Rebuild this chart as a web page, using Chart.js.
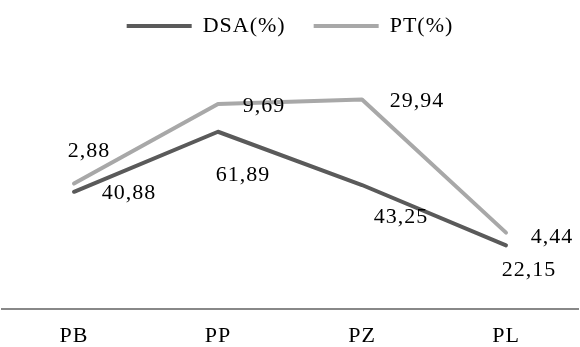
<!DOCTYPE html>
<html>
<head>
<meta charset="utf-8">
<script src="https://cdn.jsdelivr.net/npm/chart.js@4"></script>
<style>
  html, body { margin: 0; padding: 0; background: #fff; }
  #wrap { width: 580px; height: 347px; }
</style>
</head>
<body>
<div id="wrap"><canvas id="grafico"></canvas></div>
<script>
// dados do gráfico
const categorias = ['PB', 'PP', 'PZ', 'PL'];
const valoresDSA = [40.88, 61.89, 43.25, 22.15];
const valoresPT = [2.88, 9.69, 29.94, 4.44];

// deslocamento dos rótulos em relação ao ponto (px)
const deslocDSA = [[55, 1], [25, 43], [39, 32], [23, 25]];
const deslocPT = [[15, -32], [46, 2], [55, 2], [46, 5]];

const fonte = '"Liberation Serif", "Times New Roman", serif';
const tamanho = 22;
const espacamento = '1px';

// rótulos de dados com vírgula decimal
const rotulos = {
  id: 'rotulos',
  afterDatasetsDraw(chart) {
    const ctx = chart.ctx;
    ctx.save();
    ctx.font = tamanho + 'px ' + fonte;
    ctx.fillStyle = '#000';
    ctx.textAlign = 'center';
    ctx.textBaseline = 'middle';
    chart.data.datasets.forEach((ds, i) => {
      const meta = chart.getDatasetMeta(i);
      const desloc = i === 0 ? deslocDSA : deslocPT;
      meta.data.forEach((pt, j) => {
        const txt = ds.data[j].toFixed(2).replace('.', ',');
        ctx.fillText(txt, pt.x + desloc[j][0], pt.y + desloc[j][1]);
      });
    });
    ctx.restore();
  }
};

// texto um pouco mais largo, como no original
const letras = {
  id: 'letras',
  beforeUpdate(chart) { chart.ctx.letterSpacing = espacamento; },
  beforeDraw(chart) { chart.ctx.letterSpacing = espacamento; }
};

// espaço extra abaixo da legenda
const margemLegenda = {
  id: 'margemLegenda',
  beforeInit(chart) {
    const fit = chart.legend.fit;
    chart.legend.fit = function () {
      fit.bind(chart.legend)();
      this.height += 33;
    };
  }
};

new Chart(document.getElementById('grafico'), {
  type: 'line',
  data: {
    labels: categorias,
    datasets: [
      {
        label: 'DSA(%)',
        data: valoresDSA,
        borderColor: '#5a5a5a',
        backgroundColor: '#5a5a5a',
        borderWidth: 4,
        pointRadius: 0,
        tension: 0,
        borderJoinStyle: 'round',
        borderCapStyle: 'round'
      },
      {
        label: 'PT(%)',
        data: valoresPT,
        borderColor: '#a8a8a8',
        backgroundColor: '#a8a8a8',
        borderWidth: 4,
        pointRadius: 0,
        tension: 0,
        borderJoinStyle: 'round',
        borderCapStyle: 'round'
      }
    ]
  },
  options: {
    responsive: true,
    maintainAspectRatio: false,
    animation: false,
    layout: { padding: { left: 2, right: 2, top: -13, bottom: -16 } },
    scales: {
      x: {
        offset: true,
        grid: { display: false, drawTicks: false },
        border: { display: true, color: '#888', width: 2 },
        ticks: { color: '#000', font: { family: fonte, size: tamanho }, padding: 14 }
      },
      y: {
        stacked: true,
        display: false,
        min: 0,
        max: 80
      }
    },
    plugins: {
      legend: {
        position: 'top',
        labels: {
          color: '#000',
          font: { family: fonte, size: tamanho },
          boxWidth: 65,
          boxHeight: 4,
          padding: 28,
          generateLabels(chart) {
            return chart.data.datasets.map((ds, i) => ({
              text: ds.label,
              fillStyle: ds.borderColor,
              strokeStyle: ds.borderColor,
              lineWidth: 0,
              fontColor: '#000',
              datasetIndex: i
            }));
          }
        }
      },
      tooltip: { enabled: false }
    }
  },
  plugins: [letras, rotulos, margemLegenda]
});
</script>
</body>
</html>
